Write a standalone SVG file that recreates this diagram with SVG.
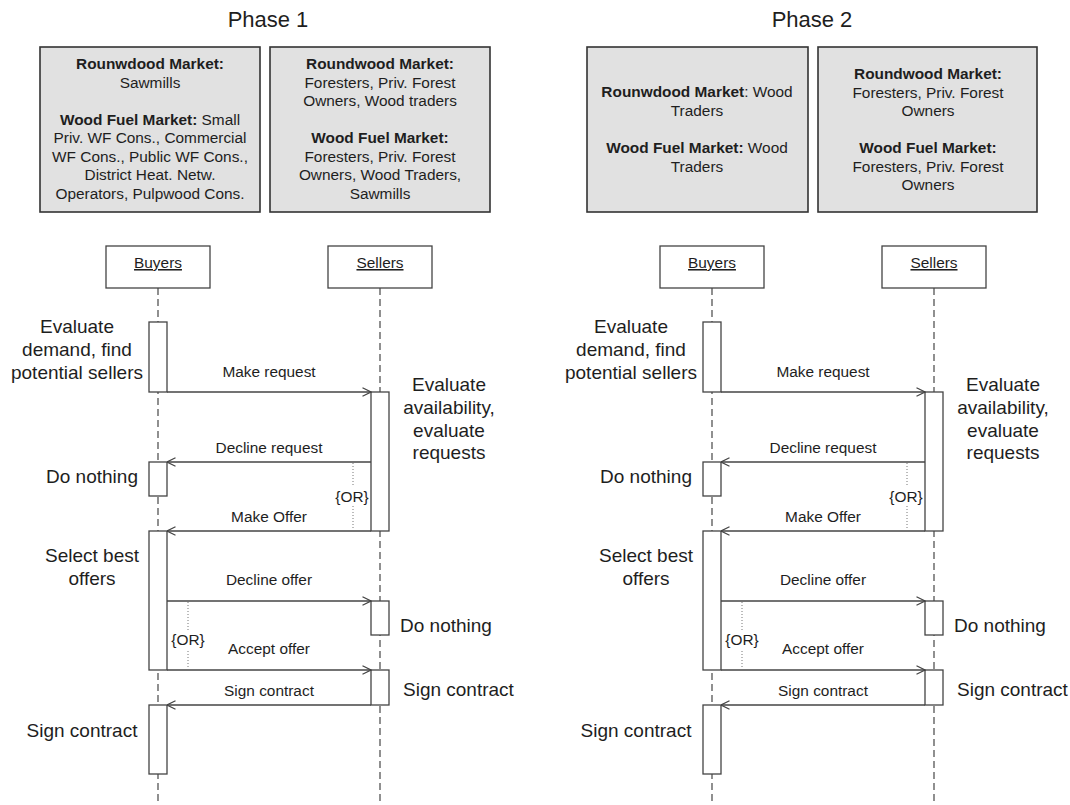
<svg xmlns="http://www.w3.org/2000/svg" width="1070" height="805" viewBox="0 0 1070 805">
  <style>
    text { font-family: "Liberation Sans", Arial, sans-serif; fill: #1e1e1e; }
    .title { font-size: 22px; text-anchor: middle; }
    .info { fill: #e1e1e1; stroke: #333; stroke-width: 1.6; }
    .info-t { font-size: 15.4px; text-anchor: middle; }
    .b { font-weight: bold; }
    .head { fill: #fff; stroke: #444; stroke-width: 1.3; }
    .head-t { font-size: 15.4px; text-anchor: middle; text-decoration: underline; }
    .life { stroke: #555; stroke-width: 1.3; stroke-dasharray: 7 4; fill: none; }
    .act { fill: #fff; stroke: #444; stroke-width: 1.3; }
    .big { font-size: 19px; text-anchor: middle; }
    .bigl { font-size: 19px; text-anchor: start; }
    .msg { stroke: #444; stroke-width: 1.3; fill: none; marker-end: url(#open); }
    .msg-t { font-size: 15.4px; text-anchor: middle; }
    .dot { stroke: #777; stroke-width: 1; stroke-dasharray: 1 2; fill: none; }
    .or { font-size: 15.4px; text-anchor: middle; }
  </style>
  <defs>
    <marker id="open" viewBox="0 0 10 10" refX="9.5" refY="5" markerWidth="10" markerHeight="10" markerUnits="userSpaceOnUse" orient="auto">
      <path d="M1,0.8 L9.5,5 L1,9.2" fill="none" stroke="#444" stroke-width="1.2"/>
    </marker>
  </defs>

  <!-- ===== Phase 1 ===== -->
  <text class="title" x="268" y="27">Phase 1</text>

  <g id="p1-buyers-info">
    <rect class="info" x="40" y="47" width="220" height="165"/>
    <text class="info-t" x="150" y="69"><tspan class="b">Rounwdood Market:</tspan></text>
    <text class="info-t" x="150" y="87.5">Sawmills</text>
    <text class="info-t" x="150" y="124.5"><tspan class="b">Wood Fuel Market:</tspan> Small</text>
    <text class="info-t" x="150" y="143">Priv. WF Cons., Commercial</text>
    <text class="info-t" x="150" y="161.5">WF Cons., Public WF Cons.,</text>
    <text class="info-t" x="150" y="180">District Heat. Netw.</text>
    <text class="info-t" x="150" y="198.5">Operators, Pulpwood Cons.</text>
  </g>

  <g id="p1-sellers-info">
    <rect class="info" x="270" y="47" width="220" height="165"/>
    <text class="info-t" x="380" y="69"><tspan class="b">Roundwood Market:</tspan></text>
    <text class="info-t" x="380" y="87.5">Foresters, Priv. Forest</text>
    <text class="info-t" x="380" y="106">Owners, Wood traders</text>
    <text class="info-t" x="380" y="143"><tspan class="b">Wood Fuel Market:</tspan></text>
    <text class="info-t" x="380" y="161.5">Foresters, Priv. Forest</text>
    <text class="info-t" x="380" y="180">Owners, Wood Traders,</text>
    <text class="info-t" x="380" y="198.5">Sawmills</text>
  </g>

  <g id="p1-buyers">
    <line class="life" x1="158" y1="288" x2="158" y2="802"/>
    <rect class="head" x="106" y="246" width="104" height="42"/>
    <text class="head-t" x="158" y="268">Buyers</text>
    <rect class="act" x="149" y="322" width="18" height="70"/>
    <rect class="act" x="149" y="462" width="18" height="34"/>
    <rect class="act" x="149" y="531" width="18" height="139"/>
    <rect class="act" x="149" y="705" width="18" height="69"/>
    <text class="big" x="77" y="333">Evaluate</text>
    <text class="big" x="77" y="356">demand, find</text>
    <text class="big" x="77" y="379">potential sellers</text>
    <text class="big" x="92" y="483">Do nothing</text>
    <text class="big" x="92" y="562">Select best</text>
    <text class="big" x="92" y="585">offers</text>
    <text class="big" x="82" y="737">Sign contract</text>
  </g>

  <g id="p1-sellers">
    <line class="life" x1="380" y1="288" x2="380" y2="802"/>
    <rect class="head" x="328" y="246" width="104" height="42"/>
    <text class="head-t" x="380" y="268">Sellers</text>
    <rect class="act" x="371" y="392" width="18" height="139"/>
    <rect class="act" x="371" y="601" width="18" height="34"/>
    <rect class="act" x="371" y="670" width="18" height="35"/>
    <text class="big" x="449" y="391">Evaluate</text>
    <text class="big" x="449" y="414">availability,</text>
    <text class="big" x="449" y="437">evaluate</text>
    <text class="big" x="449" y="459">requests</text>
    <text class="bigl" x="400" y="632">Do nothing</text>
    <text class="bigl" x="403" y="696">Sign contract</text>
  </g>

  <g id="p1-connectors">
    <line class="msg" x1="167" y1="392" x2="371" y2="392"/>
    <text class="msg-t" x="269" y="377">Make request</text>
    <line class="msg" x1="371" y1="462" x2="167" y2="462"/>
    <text class="msg-t" x="269" y="453">Decline request</text>
    <line class="msg" x1="371" y1="531" x2="167" y2="531"/>
    <text class="msg-t" x="269" y="522">Make Offer</text>
    <line class="msg" x1="167" y1="601" x2="371" y2="601"/>
    <text class="msg-t" x="269" y="585">Decline offer</text>
    <line class="msg" x1="167" y1="670" x2="371" y2="670"/>
    <text class="msg-t" x="269" y="654">Accept offer</text>
    <line class="msg" x1="371" y1="705" x2="167" y2="705"/>
    <text class="msg-t" x="269" y="696">Sign contract</text>
    <!-- alternative markers -->
    <line class="dot" x1="353" y1="463" x2="353" y2="487"/>
    <line class="dot" x1="353" y1="506" x2="353" y2="530"/>
    <text class="or" x="352" y="502">{OR}</text>
    <line class="dot" x1="188" y1="602" x2="188" y2="631"/>
    <line class="dot" x1="188" y1="651" x2="188" y2="669"/>
    <text class="or" x="188" y="645">{OR}</text>
  </g>

  <!-- ===== Phase 2 ===== -->
  <text class="title" x="812" y="27">Phase 2</text>

  <g id="p2-buyers-info">
    <rect class="info" x="587" y="47" width="221" height="165"/>
    <text class="info-t" x="697" y="97"><tspan class="b">Rounwdood Market</tspan>: Wood</text>
    <text class="info-t" x="697" y="116">Traders</text>
    <text class="info-t" x="697" y="153"><tspan class="b">Wood Fuel Market:</tspan> Wood</text>
    <text class="info-t" x="697" y="172">Traders</text>
  </g>

  <g id="p2-sellers-info">
    <rect class="info" x="818" y="47" width="219" height="165"/>
    <text class="info-t" x="928" y="79"><tspan class="b">Roundwood Market:</tspan></text>
    <text class="info-t" x="928" y="97.5">Foresters, Priv. Forest</text>
    <text class="info-t" x="928" y="116">Owners</text>
    <text class="info-t" x="928" y="153"><tspan class="b">Wood Fuel Market:</tspan></text>
    <text class="info-t" x="928" y="171.5">Foresters, Priv. Forest</text>
    <text class="info-t" x="928" y="190">Owners</text>
  </g>

  <g id="p2-buyers">
    <line class="life" x1="712" y1="288" x2="712" y2="802"/>
    <rect class="head" x="660" y="246" width="104" height="42"/>
    <text class="head-t" x="712" y="268">Buyers</text>
    <rect class="act" x="703" y="322" width="18" height="70"/>
    <rect class="act" x="703" y="462" width="18" height="34"/>
    <rect class="act" x="703" y="531" width="18" height="139"/>
    <rect class="act" x="703" y="705" width="18" height="69"/>
    <text class="big" x="631" y="333">Evaluate</text>
    <text class="big" x="631" y="356">demand, find</text>
    <text class="big" x="631" y="379">potential sellers</text>
    <text class="big" x="646" y="483">Do nothing</text>
    <text class="big" x="646" y="562">Select best</text>
    <text class="big" x="646" y="585">offers</text>
    <text class="big" x="636" y="737">Sign contract</text>
  </g>

  <g id="p2-sellers">
    <line class="life" x1="934" y1="288" x2="934" y2="802"/>
    <rect class="head" x="882" y="246" width="104" height="42"/>
    <text class="head-t" x="934" y="268">Sellers</text>
    <rect class="act" x="925" y="392" width="18" height="139"/>
    <rect class="act" x="925" y="601" width="18" height="34"/>
    <rect class="act" x="925" y="670" width="18" height="35"/>
    <text class="big" x="1003" y="391">Evaluate</text>
    <text class="big" x="1003" y="414">availability,</text>
    <text class="big" x="1003" y="437">evaluate</text>
    <text class="big" x="1003" y="459">requests</text>
    <text class="bigl" x="954" y="632">Do nothing</text>
    <text class="bigl" x="957" y="696">Sign contract</text>
  </g>

  <g id="p2-connectors">
    <line class="msg" x1="721" y1="392" x2="925" y2="392"/>
    <text class="msg-t" x="823" y="377">Make request</text>
    <line class="msg" x1="925" y1="462" x2="721" y2="462"/>
    <text class="msg-t" x="823" y="453">Decline request</text>
    <line class="msg" x1="925" y1="531" x2="721" y2="531"/>
    <text class="msg-t" x="823" y="522">Make Offer</text>
    <line class="msg" x1="721" y1="601" x2="925" y2="601"/>
    <text class="msg-t" x="823" y="585">Decline offer</text>
    <line class="msg" x1="721" y1="670" x2="925" y2="670"/>
    <text class="msg-t" x="823" y="654">Accept offer</text>
    <line class="msg" x1="925" y1="705" x2="721" y2="705"/>
    <text class="msg-t" x="823" y="696">Sign contract</text>
    <!-- alternative markers -->
    <line class="dot" x1="907" y1="463" x2="907" y2="487"/>
    <line class="dot" x1="907" y1="506" x2="907" y2="530"/>
    <text class="or" x="906" y="502">{OR}</text>
    <line class="dot" x1="742" y1="602" x2="742" y2="631"/>
    <line class="dot" x1="742" y1="651" x2="742" y2="669"/>
    <text class="or" x="742" y="645">{OR}</text>
  </g>
</svg>
